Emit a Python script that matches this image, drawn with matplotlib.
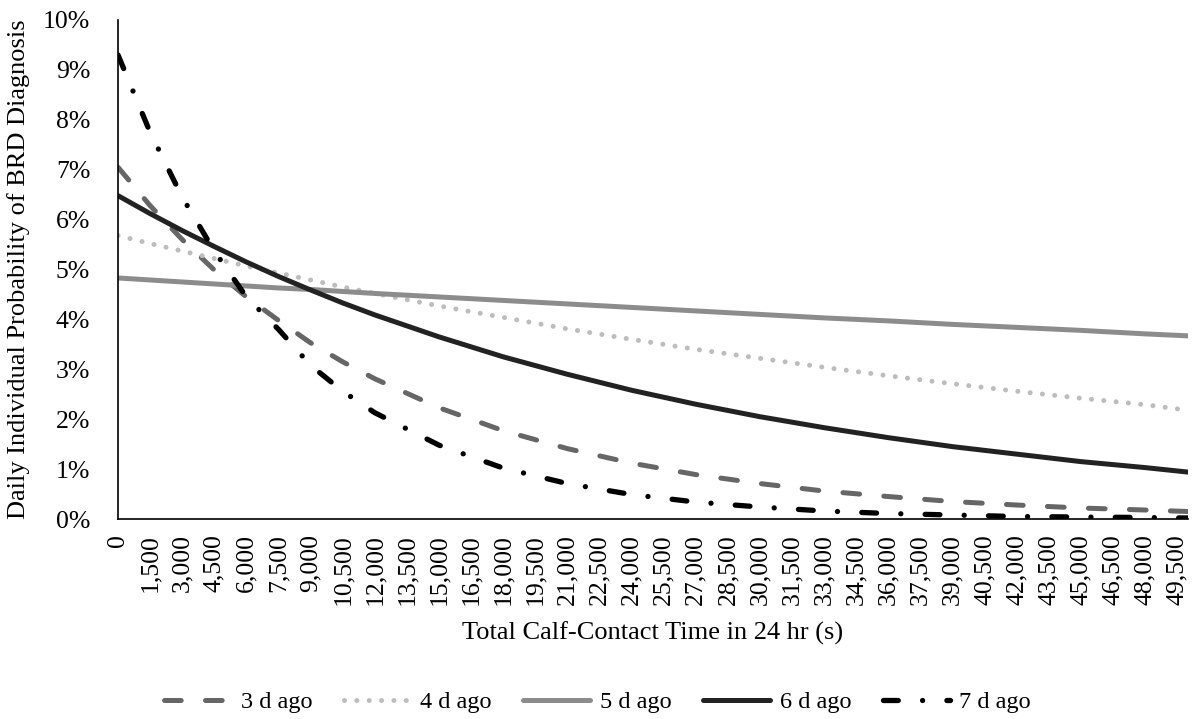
import matplotlib
matplotlib.use("Agg")
import matplotlib.pyplot as plt

# ---- data ----
time_s = [0, 1500, 3000, 4500, 6000, 7500, 9000, 10500, 12000, 15000, 18000,
          21000, 24000, 27000, 30000, 33000, 36000, 39000, 42000, 45000, 48000, 50000]
d3_ago = [7.05, 6.28, 5.60, 4.99, 4.45, 3.98, 3.53, 3.15, 2.81, 2.23, 1.77,
          1.41, 1.12, 0.89, 0.71, 0.56, 0.45, 0.35, 0.28, 0.22, 0.18, 0.15]
d4_ago = [5.68, 5.52, 5.37, 5.22, 5.07, 4.93, 4.79, 4.65, 4.52, 4.27, 4.04,
          3.81, 3.60, 3.40, 3.22, 3.04, 2.87, 2.71, 2.56, 2.42, 2.29, 2.18]
d5_ago = [4.83, 4.79, 4.75, 4.71, 4.67, 4.63, 4.60, 4.56, 4.52, 4.45, 4.38,
          4.31, 4.24, 4.17, 4.10, 4.03, 3.97, 3.90, 3.84, 3.78, 3.71, 3.67]
d6_ago = [6.48, 6.12, 5.78, 5.46, 5.15, 4.86, 4.59, 4.33, 4.09, 3.65, 3.25,
          2.90, 2.58, 2.30, 2.05, 1.83, 1.63, 1.45, 1.30, 1.15, 1.03, 0.94]
d7_ago = [9.30, 7.75, 6.45, 5.37, 4.45, 3.80, 3.08, 2.56, 2.13, 1.48, 1.02,
          0.71, 0.49, 0.34, 0.24, 0.16, 0.11, 0.08, 0.05, 0.04, 0.03, 0.02]
series_labels = ["3 d ago", "4 d ago", "5 d ago", "6 d ago", "7 d ago"]
x_ticks = list(range(0, 49501, 1500))
x_tick_labels = [f"{v:,}" for v in x_ticks]
y_ticks = list(range(0, 11))
y_tick_labels = [f"{v}%" for v in y_ticks]

plt.rcParams['font.family'] = ['Liberation Serif', 'DejaVu Serif']
FS_TICK = 18.5
FS_LABEL = 19
FS_LEG = 17.5
LW = 3.6

fig = plt.figure(figsize=(11.95, 7.19), dpi=100)
ax = fig.add_axes([118/1195, 1 - 519/719, (1188-118)/1195, (519-20)/719])

ax.plot(time_s, d3_ago, color="#666666", lw=LW, linestyle=(0, (3.34, 4.86)),
        dash_capstyle="round", label=series_labels[0])
ax.plot(time_s, d4_ago, color="#bdbdbd", lw=LW, linestyle=(0, (0.01, 2.46)),
        dash_capstyle="round", label=series_labels[1])
ax.plot(time_s, d5_ago, color="#8c8c8c", lw=LW, solid_capstyle="round",
        label=series_labels[2])
ax.plot(time_s, d6_ago, color="#222222", lw=LW, solid_capstyle="round",
        label=series_labels[3])
ax.plot(time_s, d7_ago, color="#000000", lw=3.8,
        linestyle=(0, (2.8, 4.6, 0.01, 4.6)), dash_capstyle="round",
        label=series_labels[4])

ax.set_xlim(0, 50000)
ax.set_ylim(0, 10)
ax.set_xticks(x_ticks)
ax.set_xticklabels(x_tick_labels, rotation=90, fontsize=FS_TICK)
ax.set_yticks(y_ticks)
ax.set_yticklabels(y_tick_labels, fontsize=FS_TICK)
ax.tick_params(axis='y', length=0, pad=20)
ax.tick_params(axis='x', length=0, pad=11)

for s in ("top", "right"):
    ax.spines[s].set_visible(False)
for s in ("left", "bottom"):
    ax.spines[s].set_color("#000000")
    ax.spines[s].set_linewidth(1.2)

ax.set_xlabel("Total Calf-Contact Time in 24 hr (s)", fontsize=FS_LABEL, va="center")
ax.xaxis.set_label_coords(0.5, (519 - 633) / 499)
ax.set_ylabel("Daily Individual Probability of BRD Diagnosis", fontsize=FS_LABEL, va="center")
ax.yaxis.set_label_coords((19 - 118) / 1070, 0.5)

fig.legend(loc="center", bbox_to_anchor=(0.5, 1 - 702/719), ncol=5, frameon=False,
           fontsize=FS_LEG, handlelength=2.75, handletextpad=0.4, columnspacing=1.3)

fig.savefig("out.png", dpi=100)
